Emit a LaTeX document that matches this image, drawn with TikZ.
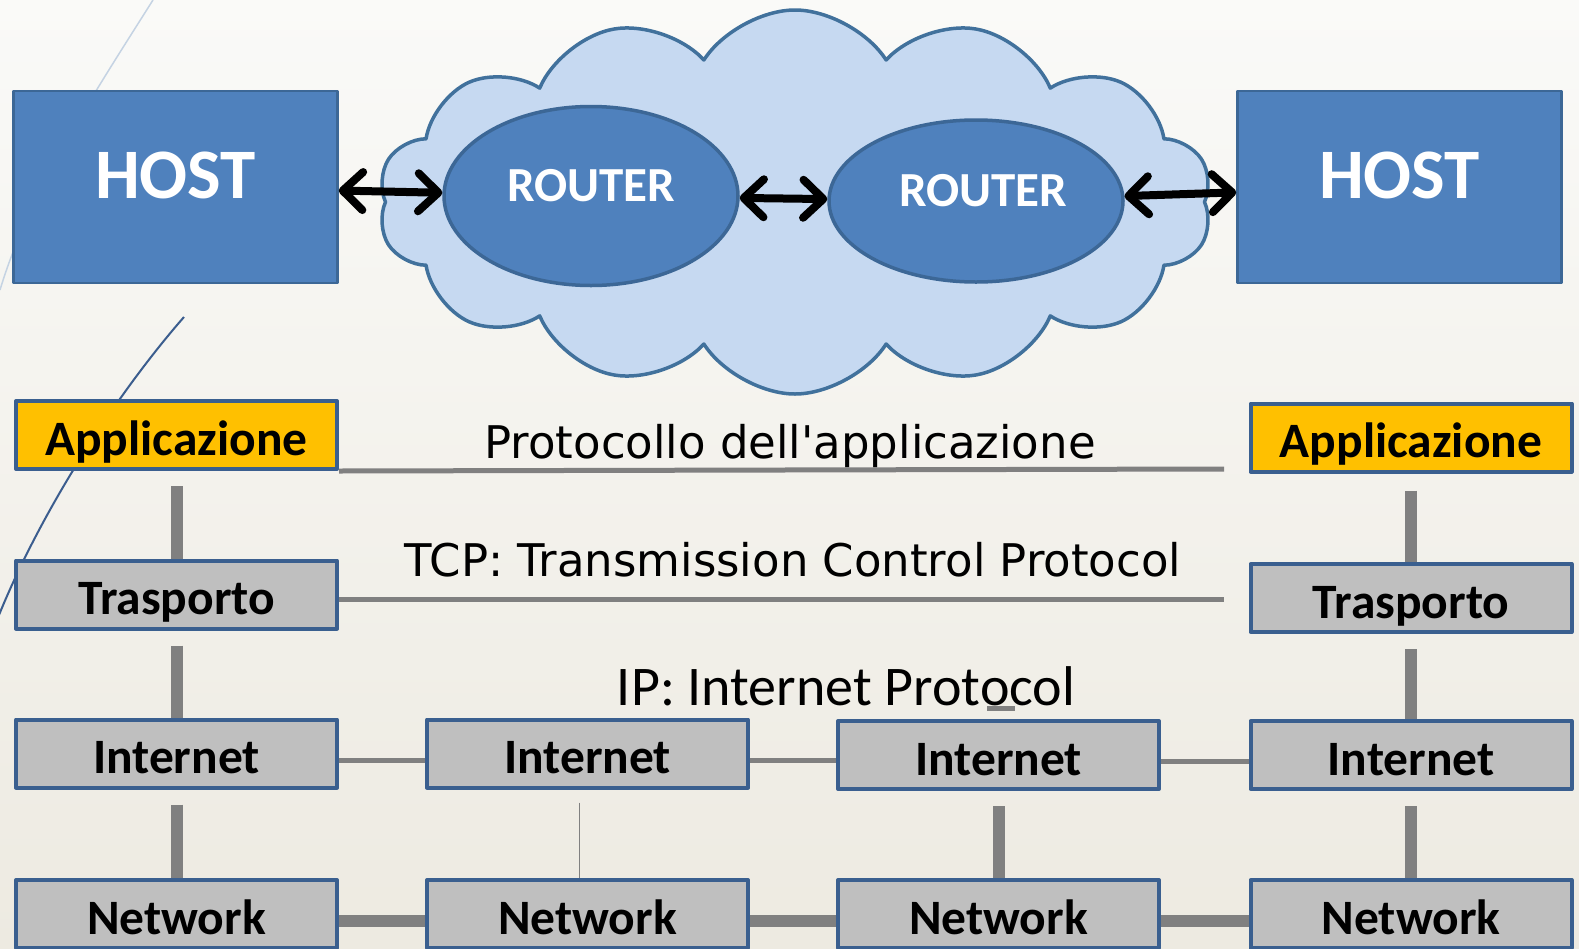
\documentclass[tikz,border=0pt]{standalone}
\usepackage{fontspec}
\setmainfont{Carlito}
\newfontfamily\protofont{DejaVu Sans}[Ligatures=TeXOff]
\usetikzlibrary{shapes.geometric,shapes.symbols,arrows.meta}
\definecolor{bgtop}{HTML}{FAFAF8}
\definecolor{bgbottom}{HTML}{EDEAE1}
\definecolor{hostblue}{HTML}{4F81BD}
\definecolor{hostedge}{HTML}{3C6796}
\definecolor{cloudfill}{HTML}{C6D9F1}
\definecolor{cloudedge}{HTML}{41719C}
\definecolor{layergray}{HTML}{BFBFBF}
\definecolor{layeredge}{HTML}{3A5F8F}
\definecolor{appyellow}{HTML}{FFC000}
\definecolor{linegray}{HTML}{808080}
\definecolor{decolight}{HTML}{C5D3E3}
\definecolor{decodark}{HTML}{3B5D8E}

\begin{document}
\begin{tikzpicture}[x=1pt,y=-1pt,line join=round,
  host/.style={rectangle,fill=hostblue,draw=hostedge,line width=2.5pt,minimum width=324pt,minimum height=192pt,
    text=white,font=\fontsize{71}{71}\selectfont\bfseries,text height=23pt,text depth=0pt},
  router/.style={ellipse,fill=hostblue,draw=hostedge,line width=3.5pt,inner sep=0pt,
    text=white,font=\fontsize{49}{49}\selectfont\bfseries,text height=11pt,text depth=0pt},
  layer/.style={rectangle,fill=layergray,draw=layeredge,line width=4pt,minimum width=321pt,minimum height=68pt,
    font=\fontsize{49.5}{49.5}\selectfont\bfseries,text height=40pt,text depth=0pt},
  app/.style={layer,fill=appyellow},
  proto/.style={font=\protofont\fontsize{45}{45}\selectfont,anchor=base},
  ipproto/.style={font=\fontsize{56}{56}\selectfont,anchor=base},
  link/.style={draw=linegray,line width=5pt},
  thicklink/.style={draw=linegray,line width=12pt},
  thinlink/.style={draw=linegray,line width=1.5pt},
  dbl/.style={<->,line width=8pt,line cap=round,>={Straight Barb[length=20pt,width=38pt,round]}}]
\clip (0,0) rectangle (1579,948);
\shade[top color=bgtop,bottom color=bgbottom] (0,0) rectangle (1579,948);
\draw[decolight,line width=1.5pt] (153,0) .. controls (95,92) and (30,190) .. (0,290);
\draw[decodark,line width=2pt] (184,317) .. controls (120,390) and (40,510) .. (-5,625);

\node[cloud,cloud puffs=14,cloud puff arc=115,aspect=2.2,fill=cloudfill,draw=cloudedge,line width=3.5pt,
  minimum width=834pt,minimum height=384pt] (inet) at (795,202) {};
\node[host] (hostL) at (175.5,187) {HOST};
\node[host] (hostR) at (1399.5,187) {HOST};
\node[router,minimum width=294pt,minimum height=179pt] (rt1) at (591,196) {ROUTER};
\node[router,minimum width=294pt,minimum height=162pt] (rt2) at (976,201) {\hspace{14pt}ROUTER};
\draw[dbl] (hostL) -- (rt1);
\draw[dbl] (rt1) -- (rt2);
\draw[dbl] (rt2) -- (hostR);

\node[app] (appL) at (176.5,435) {Applicazione};
\node[app] (appR) at (1411,437.5) {Applicazione};
\node[layer] (trL) at (176.5,594.5) {Trasporto};
\node[layer] (trR) at (1411,598) {Trasporto};
\node[layer] (inL) at (176.5,753.5) {Internet};
\node[layer] (inA) at (587.5,753.5) {Internet};
\node[layer] (inB) at (998.5,755) {Internet};
\node[layer] (inR) at (1411,755) {Internet};
\node[layer] (netL) at (176.5,914) {Network};
\node[layer] (netA) at (587.5,914) {Network};
\node[layer] (netB) at (998.5,914) {Network};
\node[layer] (netR) at (1411,914) {Network};

\node[proto] (appproto) at (790,458) {Protocollo dell'applicazione};
\node[proto] (tcpproto) at (793,576) {TCP: Transmission Control Protocol};
\node[ipproto] (ipproto) at (846,705) {IP: Internet Protocol};
\draw[link] (987,708) -- (1015,708);

\coordinate (appEnd) at (1224,469);
\coordinate (tcpEnd) at (1224,599.5);
\draw[link] (appL.south east) -- (appEnd);
\draw[link] ([yshift=-5pt]trL.east) -- (tcpEnd);
\draw[link] ([yshift=-7pt]inL.east) -- ([yshift=-7pt]inA.west);
\draw[link] ([yshift=-7pt]inA.east) -- ([yshift=-7pt]inA.east -| inB.west);
\draw[link] ([yshift=-6pt]inB.east) -- ([yshift=-6pt]inR.west);
\draw[thicklink] ([yshift=-7pt]netL.east) -- ([yshift=-7pt]netA.west);
\draw[thicklink] ([yshift=-7pt]netA.east) -- ([yshift=-7pt]netB.west);
\draw[thicklink] ([yshift=-7pt]netB.east) -- ([yshift=-7pt]netR.west);

\draw[thicklink] ([yshift=-15pt]appL.south) -- (trL.north);
\draw[thicklink] ([yshift=-15pt]trL.south) -- (inL.north);
\draw[thicklink] ([yshift=-15pt]inL.south) -- (netL.north);
\draw[thicklink] ([yshift=-17pt]appR.south) -- (trR.north);
\draw[thicklink] ([yshift=-15pt]trR.south) -- (inR.north);
\draw[thicklink] ([yshift=-15pt]inR.south) -- (netR.north);
\draw[thicklink] ([yshift=-15pt]inB.south) -- (netB.north);
\draw[thinlink] ([xshift=-8pt,yshift=-13pt]inA.south) -- ([xshift=-8pt]netA.north);
\end{tikzpicture}
\end{document}
